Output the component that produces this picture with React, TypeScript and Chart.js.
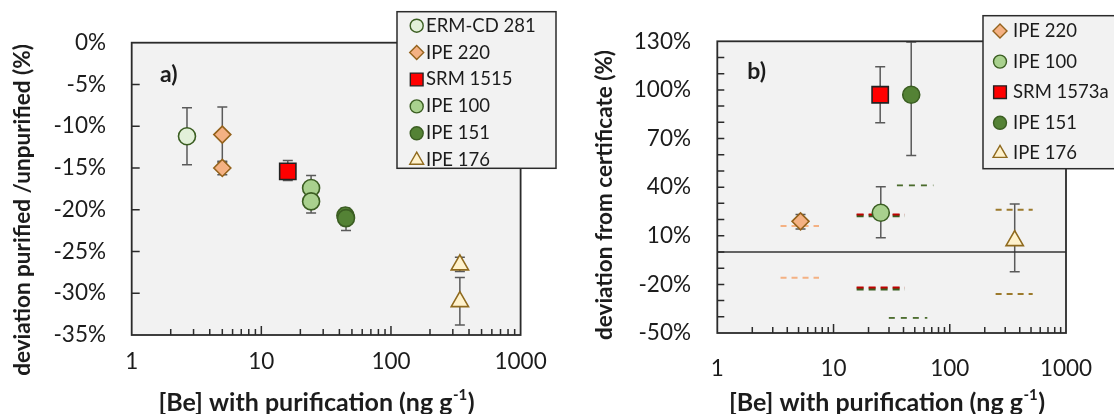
import React, { useEffect, useRef } from 'react';
import { Chart, registerables } from 'chart.js';
import { drawPoint } from 'chart.js/helpers';

Chart.register(...registerables);

const FONT = 'Lato, "Open Sans", sans-serif';
const TEXT = '#1c1c1c';

// ---------- shared ----------
const X_TICKS = [1, 10, 100, 1000];
const TITLE_X_MAIN = '[Be] with purification (ng g';
const TITLE_X_SUP = '-1';
const TITLE_X_END = ')';

// ---------- panel a ----------
const A_Y_TICKS = [0, -5, -10, -15, -20, -25, -30, -35];
const A_TITLE_Y = 'deviation purified /unpurified (%)';
const A_PANEL = 'a)';

const A_ERM_X = [2.67];
const A_ERM_Y = [-11.2];
const A_ERM_LO = [-14.6];
const A_ERM_HI = [-7.8];

const A_220_X = [5.0, 5.0];
const A_220_Y = [-11.0, -15.0];
const A_220_LO = [-14.3, -15.8];
const A_220_HI = [-7.7, -14.2];

const A_1515_X = [16.0];
const A_1515_Y = [-15.4];
const A_1515_LO = [-16.5];
const A_1515_HI = [-14.1];

const A_100_X = [24.2, 24.2];
const A_100_Y = [-17.4, -19.0];
const A_100_LO = [-18.8, -20.4];
const A_100_HI = [-15.9, -17.6];

const A_151_X = [44.5, 45.0];
const A_151_Y = [-20.7, -21.0];
const A_151_LO = [-21.9, -22.5];
const A_151_HI = [-19.8, -20.2];

const A_176_X = [340, 340];
const A_176_Y = [-26.6, -31.0];
const A_176_LO = [-27.4, -33.8];
const A_176_HI = [-25.7, -28.1];

const A_LEGEND = ['ERM-CD 281', 'IPE 220', 'SRM 1515', 'IPE 100', 'IPE 151', 'IPE 176'];

// ---------- panel b ----------
const B_Y_TICKS = [130, 100, 70, 40, 10, -20, -50];
const B_TITLE_Y = 'deviation from certificate (%)';
const B_PANEL = 'b)';

const B_220_X = [5.2];
const B_220_Y = [18.9];
const B_220_LO = [14.2];
const B_220_HI = [23.2];

const B_100_X = [25.5];
const B_100_Y = [24.2];
const B_100_LO = [8.8];
const B_100_HI = [40.3];

const B_1573_X = [25.2];
const B_1573_Y = [97];
const B_1573_LO = [79.8];
const B_1573_HI = [114.3];

const B_151_X = [46.6];
const B_151_Y = [97];
const B_151_LO = [59.6];
const B_151_HI = [129.6];

const B_176_X = [362];
const B_176_Y = [7];
const B_176_LO = [-12.2];
const B_176_HI = [29.6];

// certificate uncertainty ranges (dashed)
const B_RANGE_220_X = [3.5, 7.5];
const B_RANGE_220_Y = [16.0, -15.9];
const B_RANGE_1573_X = [15.8, 41.0];
const B_RANGE_1573_Y = [23.1, -22.0];
const B_RANGE_100_Y = [22.4, -22.8];
const B_RANGE_151_UP_X = [35.1, 72.3];
const B_RANGE_151_UP_Y = 41.1;
const B_RANGE_151_LO_X = [29.9, 64.1];
const B_RANGE_151_LO_Y = -40.7;
const B_RANGE_176_X = [248, 517];
const B_RANGE_176_Y = [26.1, -26.0];
const B_ZERO_X = [1, 1000];
const B_ZERO_Y = 0;

const B_LEGEND = ['IPE 220', 'IPE 100', 'SRM 1573a', 'IPE 151', 'IPE 176'];

// ---------- styles ----------
type Sty = { pointStyle: string; fill: string; stroke: string; r: number; lr: number };
const STY: Record<string, Sty> = {
  erm: { pointStyle: 'circle', fill: '#e2f0d9', stroke: '#3b5e22', r: 8.5, lr: 6.5 },
  ipe220: { pointStyle: 'rectRot', fill: '#f4b183', stroke: '#94621c', r: 8.5, lr: 7 },
  srm: { pointStyle: 'rect', fill: '#ff0000', stroke: '#222222', r: 11.5, lr: 9 },
  ipe100: { pointStyle: 'circle', fill: '#a9d18e', stroke: '#3b5e22', r: 8.5, lr: 6.5 },
  ipe151: { pointStyle: 'circle', fill: '#548235', stroke: '#3b5e22', r: 8.5, lr: 6.5 },
  ipe176: { pointStyle: 'triangle', fill: '#fff2cc', stroke: '#8f6a1e', r: 10, lr: 8 },
};
const A_LEGEND_KEYS = ['erm', 'ipe220', 'srm', 'ipe100', 'ipe151', 'ipe176'];
const B_LEGEND_KEYS = ['ipe220', 'ipe100', 'srm', 'ipe151', 'ipe176'];

const X_TITLE_SIZE = 25;
const X_SUP_SIZE = 15;
const Y_TITLE_SIZE = 22.5;
const LEGEND_SIZE = 18.5;

function pts(xs: number[], ys: number[]) {
  return xs.map((x, i) => ({ x, y: ys[i] }));
}

function series(label: string, key: string, xs: number[], ys: number[], lo: number[], hi: number[]) {
  const s = STY[key];
  return {
    label,
    data: pts(xs, ys),
    errLo: lo,
    errHi: hi,
    showLine: false,
    pointStyle: s.pointStyle,
    pointRadius: s.r,
    pointHoverRadius: s.r,
    pointBackgroundColor: s.fill,
    pointBorderColor: s.stroke,
    pointBorderWidth: 1.6,
    backgroundColor: s.fill,
    borderColor: s.stroke,
    order: 0,
  };
}

function hline(xs: number[], y: number, color: string, width: number, dash: number[], order = 5) {
  return {
    label: '',
    data: [{ x: xs[0], y }, { x: xs[1], y }],
    showLine: true,
    pointRadius: 0,
    pointHoverRadius: 0,
    borderColor: color,
    backgroundColor: color,
    borderWidth: width,
    borderDash: dash,
    fill: false,
    order,
  };
}

type Cfg = {
  yTickVals: number[];
  yTickLen: number;
  legendLabels: string[];
  legendKeys: string[];
  legend: { x: number; y: number; w: number; h: number; mx: number; tx: number; y0: number; dy: number };
  panel: string;
  panelPos: [number, number];
  yTitle: string;
  yTitlePos: [number, number];
  xTitlePos: [number, number];
};

function decor(cfg: Cfg) {
  return {
    id: 'decor',
    beforeDatasetsDraw(chart: any) {
      const { ctx, chartArea: a, scales } = chart;
      ctx.save();
      ctx.fillStyle = '#f2f2f2';
      ctx.fillRect(a.left, a.top, a.right - a.left, a.bottom - a.top);
      ctx.strokeStyle = '#5a5a5a';
      ctx.lineWidth = 1.5;
      chart.data.datasets.forEach((ds: any) => {
        if (!ds.errLo) return;
        ds.data.forEach((p: any, i: number) => {
          const x = scales.x.getPixelForValue(p.x);
          const y1 = scales.y.getPixelForValue(ds.errLo[i]);
          const y2 = scales.y.getPixelForValue(ds.errHi[i]);
          ctx.beginPath();
          ctx.moveTo(x, y1);
          ctx.lineTo(x, y2);
          ctx.moveTo(x - 5, y1);
          ctx.lineTo(x + 5, y1);
          ctx.moveTo(x - 5, y2);
          ctx.lineTo(x + 5, y2);
          ctx.stroke();
        });
      });
      ctx.restore();
    },
    afterDatasetsDraw(chart: any) {
      const { ctx, chartArea: a, scales } = chart;
      ctx.save();
      ctx.strokeStyle = '#2b2b2b';
      ctx.lineWidth = 1.5;
      ctx.beginPath();
      for (let d = 1; d < 1000; d *= 10) {
        for (let m = 2; m <= 9; m++) {
          const x = scales.x.getPixelForValue(m * d);
          ctx.moveTo(x, a.bottom);
          ctx.lineTo(x, a.bottom - 6);
        }
        if (d > 1) {
          const x = scales.x.getPixelForValue(d);
          ctx.moveTo(x, a.bottom);
          ctx.lineTo(x, a.bottom - 9);
        }
      }
      cfg.yTickVals.forEach((v) => {
        const y = scales.y.getPixelForValue(v);
        ctx.moveTo(a.left, y);
        ctx.lineTo(a.left + cfg.yTickLen, y);
      });
      ctx.stroke();
      ctx.lineWidth = 1.8;
      ctx.strokeRect(a.left, a.top, a.right - a.left, a.bottom - a.top);
      ctx.restore();
    },
    afterDraw(chart: any) {
      const { ctx } = chart;
      ctx.save();
      // legend
      const L = cfg.legend;
      ctx.fillStyle = '#f2f2f2';
      ctx.fillRect(L.x, L.y, L.w, L.h);
      ctx.strokeStyle = '#2b2b2b';
      ctx.lineWidth = 1.5;
      ctx.strokeRect(L.x, L.y, L.w, L.h);
      cfg.legendLabels.forEach((lab, i) => {
        const s = STY[cfg.legendKeys[i]];
        const y = L.y0 + i * L.dy;
        ctx.fillStyle = s.fill;
        ctx.strokeStyle = s.stroke;
        ctx.lineWidth = 1.4;
        drawPoint(ctx, { pointStyle: s.pointStyle as any, radius: s.lr, rotation: 0, borderWidth: 1.4 }, L.mx, y);
        ctx.fillStyle = TEXT;
        ctx.font = `${LEGEND_SIZE}px ${FONT}`;
        ctx.textAlign = 'left';
        ctx.textBaseline = 'middle';
        ctx.fillText(lab, L.tx, y);
      });
      // panel label
      ctx.fillStyle = TEXT;
      ctx.font = `bold 23px ${FONT}`;
      ctx.textAlign = 'left';
      ctx.textBaseline = 'middle';
      ctx.fillText(cfg.panel, cfg.panelPos[0], cfg.panelPos[1]);
      // y title
      ctx.save();
      ctx.translate(cfg.yTitlePos[0], cfg.yTitlePos[1]);
      ctx.rotate(-Math.PI / 2);
      ctx.font = `bold ${Y_TITLE_SIZE}px ${FONT}`;
      ctx.textAlign = 'center';
      ctx.fillText(cfg.yTitle, 0, 0);
      ctx.restore();
      // x title with superscript
      ctx.font = `bold ${X_TITLE_SIZE}px ${FONT}`;
      const w1 = ctx.measureText(TITLE_X_MAIN).width;
      const w3 = ctx.measureText(TITLE_X_END).width;
      ctx.font = `bold ${X_SUP_SIZE}px ${FONT}`;
      const w2 = ctx.measureText(TITLE_X_SUP).width;
      const x0 = cfg.xTitlePos[0] - (w1 + w2 + w3) / 2;
      const cy = cfg.xTitlePos[1];
      ctx.textAlign = 'left';
      ctx.font = `bold ${X_TITLE_SIZE}px ${FONT}`;
      ctx.fillText(TITLE_X_MAIN, x0, cy);
      ctx.font = `bold ${X_SUP_SIZE}px ${FONT}`;
      ctx.fillText(TITLE_X_SUP, x0 + w1 + 0.5, cy - 8);
      ctx.font = `bold ${X_TITLE_SIZE}px ${FONT}`;
      ctx.fillText(TITLE_X_END, x0 + w1 + w2 + 1, cy);
      ctx.restore();
    },
  };
}

function makeOptions(
  yMin: number,
  yMax: number,
  yTicks: number[],
  area: { left: number; top: number; right: number; bottom: number; W: number; H: number },
  xPad: number,
  yPad: number
) {
  return {
    responsive: false,
    maintainAspectRatio: false,
    animation: false as const,
    events: [],
    layout: { padding: { left: 0, top: area.top, right: area.W - area.right, bottom: 0 } },
    plugins: { legend: { display: false }, tooltip: { enabled: false }, title: { display: false } },
    scales: {
      x: {
        type: 'logarithmic' as const,
        min: 1,
        max: 1000,
        afterBuildTicks: (s: any) => {
          s.ticks = X_TICKS.map((v) => ({ value: v }));
        },
        afterFit: (s: any) => {
          s.height = area.H - area.bottom;
        },
        grid: { display: false, drawTicks: false },
        border: { display: false },
        ticks: {
          autoSkip: false,
          maxRotation: 0,
          padding: xPad,
          color: TEXT,
          font: { family: FONT, size: 22.5 },
          callback: (v: any) => String(v),
        },
      },
      y: {
        type: 'linear' as const,
        min: yMin,
        max: yMax,
        afterBuildTicks: (s: any) => {
          s.ticks = yTicks.map((v) => ({ value: v }));
        },
        afterFit: (s: any) => {
          s.width = area.left;
        },
        grid: { display: false, drawTicks: false },
        border: { display: false },
        ticks: {
          autoSkip: false,
          padding: yPad,
          color: TEXT,
          font: { family: FONT, size: 22.5 },
          callback: (v: any) => `${v}%`,
        },
      },
    },
  };
}

export default function App() {
  const refA = useRef<HTMLCanvasElement>(null);
  const refB = useRef<HTMLCanvasElement>(null);

  useEffect(() => {
    const areaA = { left: 131.7, top: 42.7, right: 530, bottom: 335, W: 560, H: 414 };
    const chartA = new Chart(refA.current as HTMLCanvasElement, {
      type: 'scatter',
      data: {
        datasets: [
          series('ERM-CD 281', 'erm', A_ERM_X, A_ERM_Y, A_ERM_LO, A_ERM_HI),
          series('IPE 220', 'ipe220', A_220_X, A_220_Y, A_220_LO, A_220_HI),
          series('SRM 1515', 'srm', A_1515_X, A_1515_Y, A_1515_LO, A_1515_HI),
          series('IPE 100', 'ipe100', A_100_X, A_100_Y, A_100_LO, A_100_HI),
          series('IPE 151', 'ipe151', A_151_X, A_151_Y, A_151_LO, A_151_HI),
          series('IPE 176', 'ipe176', A_176_X, A_176_Y, A_176_LO, A_176_HI),
        ] as any,
      },
      options: makeOptions(-35, 0, A_Y_TICKS, areaA, 13.3, 25.7) as any,
      plugins: [
        decor({
          yTickVals: [-5, -10, -15, -20, -25, -30],
          yTickLen: 8,
          legendLabels: A_LEGEND,
          legendKeys: A_LEGEND_KEYS,
          legend: { x: 397, y: 11.7, w: 159, h: 156.6, mx: 416.7, tx: 426, y0: 25.7, dy: 26.9 },
          panel: A_PANEL,
          panelPos: [160, 75],
          yTitle: A_TITLE_Y,
          yTitlePos: [23, 210],
          xTitlePos: [316, 403],
        }),
      ],
    });

    const areaB = { left: 157.3, top: 41.3, right: 525.5, bottom: 333, W: 554, H: 414 };
    const chartB = new Chart(refB.current as HTMLCanvasElement, {
      type: 'scatter',
      data: {
        datasets: [
          series('IPE 220', 'ipe220', B_220_X, B_220_Y, B_220_LO, B_220_HI),
          series('IPE 100', 'ipe100', B_100_X, B_100_Y, B_100_LO, B_100_HI),
          series('SRM 1573a', 'srm', B_1573_X, B_1573_Y, B_1573_LO, B_1573_HI),
          series('IPE 151', 'ipe151', B_151_X, B_151_Y, B_151_LO, B_151_HI),
          series('IPE 176', 'ipe176', B_176_X, B_176_Y, B_176_LO, B_176_HI),
          hline(B_RANGE_220_X, B_RANGE_220_Y[0], '#f4b183', 2, [6, 5]),
          hline(B_RANGE_220_X, B_RANGE_220_Y[1], '#f4b183', 2, [6, 5]),
          hline(B_RANGE_1573_X, B_RANGE_100_Y[0], '#3b5e22', 3, [7, 5], 6),
          hline(B_RANGE_1573_X, B_RANGE_100_Y[1], '#3b5e22', 3, [7, 5], 6),
          hline(B_RANGE_1573_X, B_RANGE_1573_Y[0], '#c00000', 2, [7, 5]),
          hline(B_RANGE_1573_X, B_RANGE_1573_Y[1], '#c00000', 2, [7, 5]),
          hline(B_RANGE_151_UP_X, B_RANGE_151_UP_Y, '#4a6b2c', 1.8, [6, 6]),
          hline(B_RANGE_151_LO_X, B_RANGE_151_LO_Y, '#4a6b2c', 1.8, [6, 6]),
          hline(B_RANGE_176_X, B_RANGE_176_Y[0], '#9c7a2c', 2, [6, 5]),
          hline(B_RANGE_176_X, B_RANGE_176_Y[1], '#9c7a2c', 2, [6, 5]),
          hline(B_ZERO_X, B_ZERO_Y, '#333333', 1.6, [], 8),
        ] as any,
      },
      options: makeOptions(-50, 130, B_Y_TICKS, areaB, 21.9, 26.3) as any,
      plugins: [
        decor({
          yTickVals: [120, 110, 100, 90, 80, 70, 60, 50, 40, 30, 20, 10, 0, -10, -20, -30, -40],
          yTickLen: 7,
          legendLabels: B_LEGEND,
          legendKeys: B_LEGEND_KEYS,
          legend: { x: 423, y: 15.7, w: 200, h: 153, mx: 440, tx: 453, y0: 31, dy: 30.6 },
          panel: B_PANEL,
          panelPos: [187.3, 71.7],
          yTitle: B_TITLE_Y,
          yTitlePos: [45, 195],
          xTitlePos: [326.5, 403],
        }),
      ],
    });

    return () => {
      chartA.destroy();
      chartB.destroy();
    };
  }, []);

  return (
    <div style={{ position: 'absolute', left: 0, top: 0, width: 1114, height: 414, background: '#ffffff', overflow: 'hidden' }}>
      <canvas ref={refA} width={560} height={414} style={{ position: 'absolute', left: 0, top: 0 }} />
      <canvas ref={refB} width={554} height={414} style={{ position: 'absolute', left: 560, top: 0 }} />
    </div>
  );
}
